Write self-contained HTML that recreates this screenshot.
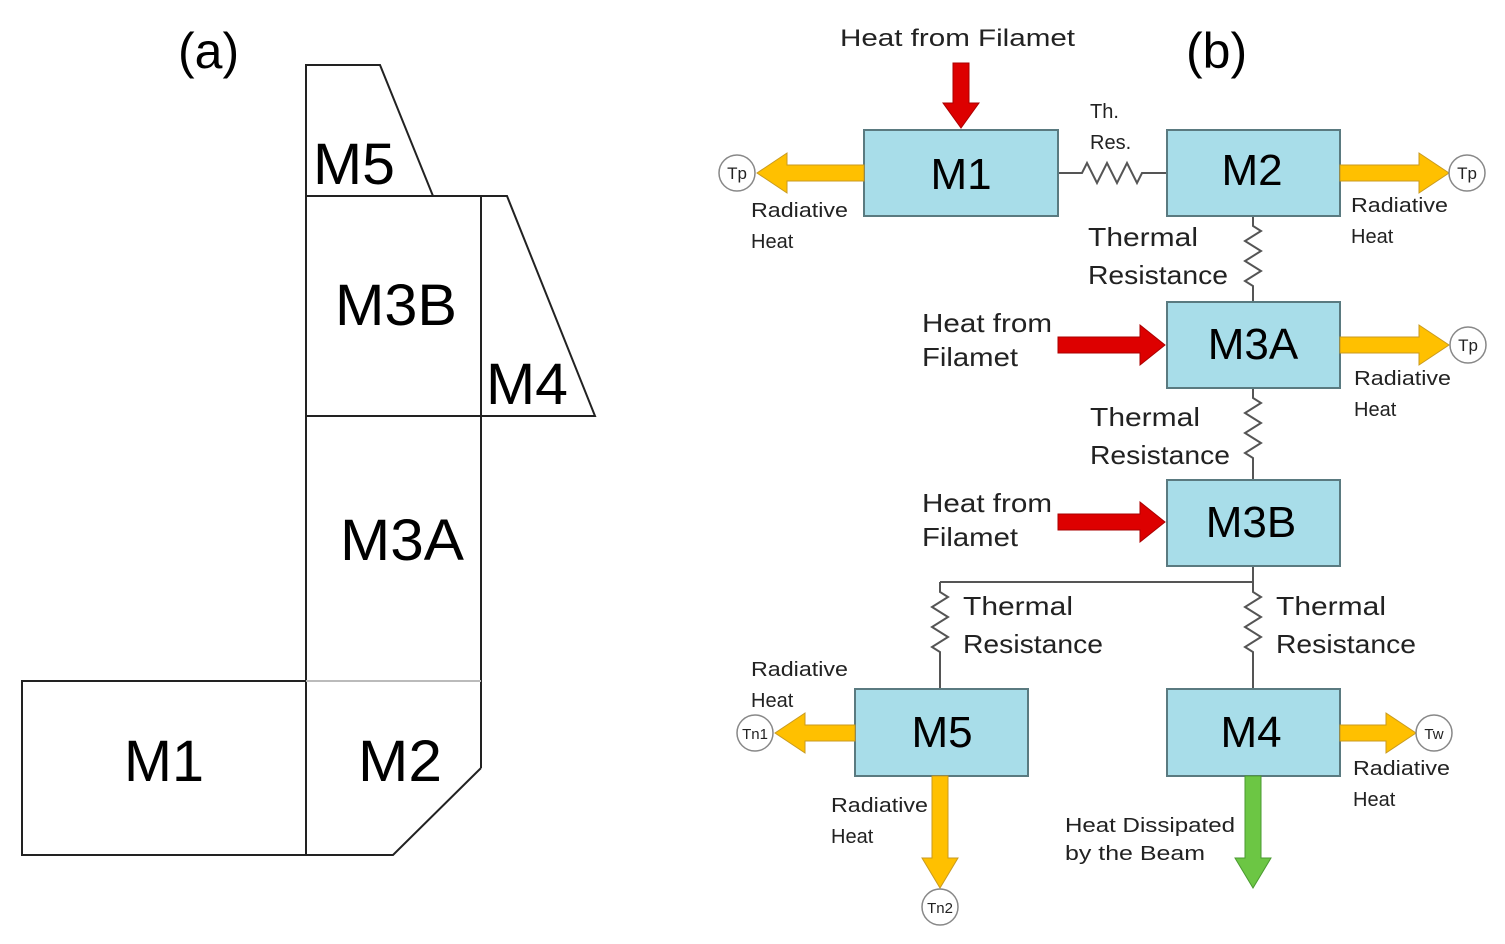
<!DOCTYPE html>
<html><head><meta charset="utf-8"><style>html,body{margin:0;padding:0;background:#fff}svg{display:block}</style></head>
<body>
<svg width="1505" height="944" viewBox="0 0 1505 944" xmlns="http://www.w3.org/2000/svg" font-family="Liberation Sans, sans-serif">
<!-- (a) -->
<g fill="none" stroke="#222" stroke-width="2">
<polyline points="306,196 306,65 380,65 433,196"/>
<polyline points="306,196 507,196 595,416 306,416"/>
<line x1="481" y1="196" x2="481" y2="768"/>
<line x1="306" y1="196" x2="306" y2="855"/>
<polyline points="481,768 393,855 22,855 22,681 306,681"/>
</g>
<line x1="306" y1="681" x2="481" y2="681" stroke="#bbb" stroke-width="2"/>
<g font-size="58" fill="#000">
<text x="313" y="184" textLength="82" lengthAdjust="spacingAndGlyphs">M5</text>
<text x="335" y="325" textLength="122" lengthAdjust="spacingAndGlyphs">M3B</text>
<text x="486" y="404" textLength="82" lengthAdjust="spacingAndGlyphs">M4</text>
<text x="340" y="560" textLength="124" lengthAdjust="spacingAndGlyphs">M3A</text>
<text x="124" y="781" textLength="80" lengthAdjust="spacingAndGlyphs">M1</text>
<text x="358" y="781" textLength="84" lengthAdjust="spacingAndGlyphs">M2</text>
</g>
<text x="178" y="68" font-size="50">(a)</text>
<text x="1186" y="68" font-size="50">(b)</text>
<!-- (b) connectors -->
<g fill="none" stroke="#555" stroke-width="2">
<path d="M1058,173 H1082 l5,-10 10,20 10,-20 10,20 10,-20 10,20 5,-10 H1167"/>
<path d="M1253,216 V226 l8,5 -16,10 16,10 -16,10 16,10 -16,10 8,5 V302"/>
<path d="M1253,388 V398 l8,5 -16,10 16,10 -16,10 16,10 -16,10 8,5 V480"/>
<path d="M1253,566 V582 H940"/>
<path d="M940,582 V592 l8,5 -16,10 16,10 -16,10 16,10 -16,10 8,5 V689"/>
<path d="M1253,582 V592 l8,5 -16,10 16,10 -16,10 16,10 -16,10 8,5 V689"/>
</g>
<!-- boxes -->
<g fill="#a8dde9" stroke="#5a7a80" stroke-width="2">
<rect x="864" y="130" width="194" height="86"/>
<rect x="1167" y="130" width="173" height="86"/>
<rect x="1167" y="302" width="173" height="86"/>
<rect x="1167" y="480" width="173" height="86"/>
<rect x="855" y="689" width="173" height="87"/>
<rect x="1167" y="689" width="173" height="87"/>
</g>
<g font-size="44" fill="#000" text-anchor="middle">
<text x="961" y="189">M1</text>
<text x="1252" y="185">M2</text>
<text x="1253" y="359">M3A</text>
<text x="1251" y="537">M3B</text>
<text x="942" y="747">M5</text>
<text x="1251" y="747">M4</text>
</g>
<!-- arrows -->
<g fill="#ffc000" stroke="#c89a20" stroke-width="1">
<polygon points="864,165 787,165 787,153 757,173 787,193 787,181 864,181"/>
<polygon points="1340,165 1419,165 1419,153 1449,173 1419,193 1419,181 1340,181"/>
<polygon points="1340,337 1419,337 1419,325 1449,345 1419,365 1419,353 1340,353"/>
<polygon points="855,725 805,725 805,713 775,733 805,753 805,741 855,741"/>
<polygon points="1340,725 1386,725 1386,713 1416,733 1386,753 1386,741 1340,741"/>
<polygon points="932,776 932,858 922,858 940,888 958,858 948,858 948,776"/>
</g>
<polygon points="1245,776 1245,858 1235,858 1253,888 1271,858 1261,858 1261,776" fill="#6cc644" stroke="#4a9a30"/>
<g fill="#dd0000" stroke="#a00" stroke-width="1">
<polygon points="953,63 969,63 969,103 979,103 961,128 943,103 953,103"/>
<polygon points="1058,337 1140,337 1140,325 1165,345 1140,365 1140,353 1058,353"/>
<polygon points="1058,514 1140,514 1140,502 1165,522 1140,542 1140,530 1058,530"/>
</g>
<!-- circles -->
<g fill="#fff" stroke="#888" stroke-width="1.5">
<circle cx="737" cy="173" r="18"/><circle cx="1467" cy="173" r="18"/>
<circle cx="1468" cy="345" r="18"/><circle cx="755" cy="733" r="18"/>
<circle cx="1434" cy="733" r="18"/><circle cx="940" cy="907" r="18"/>
</g>
<g font-size="17" fill="#222" text-anchor="middle">
<text x="737" y="179">Tp</text><text x="1467" y="179">Tp</text><text x="1468" y="351">Tp</text>
<text x="755" y="739" font-size="15">Tn1</text><text x="1434" y="739" font-size="15">Tw</text><text x="940" y="913" font-size="15">Tn2</text>
</g>
<!-- labels -->
<g fill="#222">
<text x="840" y="46" font-size="24" textLength="235" lengthAdjust="spacingAndGlyphs">Heat from Filamet</text>
<text x="1090" y="118" font-size="20">Th.</text>
<text x="1090" y="149" font-size="20">Res.</text>
<g font-size="20">
<text x="751" y="217" textLength="97" lengthAdjust="spacingAndGlyphs">Radiative</text><text x="751" y="248">Heat</text>
<text x="1351" y="212" textLength="97" lengthAdjust="spacingAndGlyphs">Radiative</text><text x="1351" y="243">Heat</text>
<text x="1354" y="385" textLength="97" lengthAdjust="spacingAndGlyphs">Radiative</text><text x="1354" y="416">Heat</text>
<text x="751" y="676" textLength="97" lengthAdjust="spacingAndGlyphs">Radiative</text><text x="751" y="707">Heat</text>
<text x="1353" y="775" textLength="97" lengthAdjust="spacingAndGlyphs">Radiative</text><text x="1353" y="806">Heat</text>
<text x="831" y="812" textLength="97" lengthAdjust="spacingAndGlyphs">Radiative</text><text x="831" y="843">Heat</text>
<text x="1065" y="832" textLength="170" lengthAdjust="spacingAndGlyphs">Heat Dissipated</text><text x="1065" y="860" textLength="140" lengthAdjust="spacingAndGlyphs">by the Beam</text>
</g>
<g font-size="26">
<text x="1088" y="246" textLength="110" lengthAdjust="spacingAndGlyphs">Thermal</text><text x="1088" y="284" textLength="140" lengthAdjust="spacingAndGlyphs">Resistance</text>
<text x="1090" y="426" textLength="110" lengthAdjust="spacingAndGlyphs">Thermal</text><text x="1090" y="464" textLength="140" lengthAdjust="spacingAndGlyphs">Resistance</text>
<text x="922" y="332" textLength="130" lengthAdjust="spacingAndGlyphs">Heat from</text><text x="922" y="366" textLength="96" lengthAdjust="spacingAndGlyphs">Filamet</text>
<text x="922" y="512" textLength="130" lengthAdjust="spacingAndGlyphs">Heat from</text><text x="922" y="546" textLength="96" lengthAdjust="spacingAndGlyphs">Filamet</text>
<text x="963" y="615" textLength="110" lengthAdjust="spacingAndGlyphs">Thermal</text><text x="963" y="653" textLength="140" lengthAdjust="spacingAndGlyphs">Resistance</text>
<text x="1276" y="615" textLength="110" lengthAdjust="spacingAndGlyphs">Thermal</text><text x="1276" y="653" textLength="140" lengthAdjust="spacingAndGlyphs">Resistance</text>
</g>
</g>
</svg>
</body></html>
